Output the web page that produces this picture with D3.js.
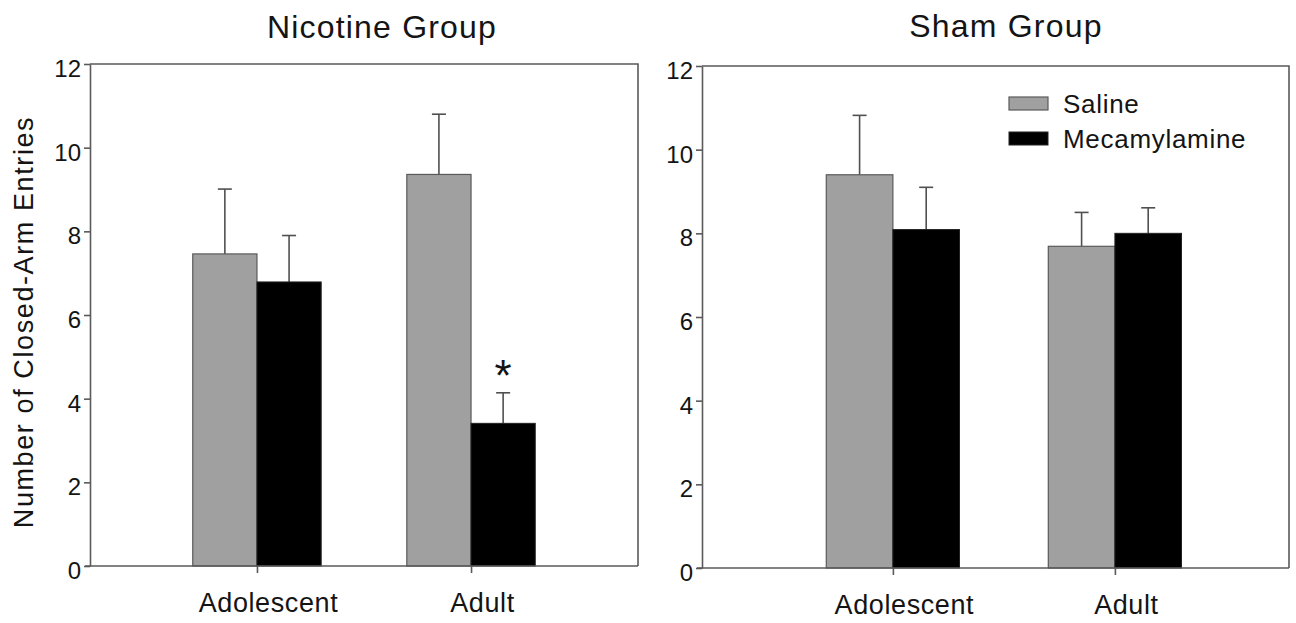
<!DOCTYPE html>
<meta charset="utf-8">
<style>
    body {
        margin: 0;
        background-color: #ffffff;
    }

    text {
        font-family: "Liberation Sans", Arial, Helvetica, sans-serif;
        fill: #141414;
    }

    .axis path, .axis line, .frame {
        stroke: #5a5a5a;
        stroke-width: 1.6;
        fill: none;
    }

    .bar.saline {
        fill: #a0a0a0;
        stroke: #5a5a5a;
        stroke-width: 1.2;
    }

    .bar.meca {
        fill: #000000;
        stroke: #222;
        stroke-width: 1;
    }

    .err {
        stroke: #505050;
        stroke-width: 1.6;
    }
</style>
<body>
<script src="https://cdnjs.cloudflare.com/ajax/libs/d3/7.8.5/d3.min.js"></script>
<script>

    // values (mean and SEM, closed-arm entries)
    var ages = ["Adolescent", "Adult"];
    var treatments = ["Saline", "Mecamylamine"];
    var yTicks = [0, 2, 4, 6, 8, 10, 12];

    var nicotineSaline = [7.46, 9.36];
    var nicotineSalineSem = [1.55, 1.44];
    var nicotineMeca = [6.79, 3.41];
    var nicotineMecaSem = [1.11, 0.73];

    var shamSaline = [9.40, 7.69];
    var shamSalineSem = [1.42, 0.81];
    var shamMeca = [8.09, 8.00];
    var shamMecaSem = [1.01, 0.61];

    var signif = [false, true]; // asterisk over mecamylamine bar, nicotine group

    var width = 1296, height = 623;

    var svg = d3.select("body").append("svg")
            .attr("width", width)
            .attr("height", height);

    var panels = [
        {title: "Nicotine Group", left: 90, top: 64, right: 638, bottom: 566,
            padding: 0.78, align: 0.5, titleX: 382, titleY: 38,
            saline: nicotineSaline, salineSem: nicotineSalineSem,
            meca: nicotineMeca, mecaSem: nicotineMecaSem, stars: signif, legend: false},
        {title: "Sham Group", left: 702, top: 66, right: 1289, bottom: 568,
            padding: 0.822, align: 0.523, titleX: 1006, titleY: 37,
            saline: shamSaline, salineSem: shamSalineSem,
            meca: shamMeca, mecaSem: shamMecaSem, stars: [false, false], legend: true}
    ];

    panels.forEach(drawPanel);

    // y-axis title
    svg.append("text")
            .attr("transform", "translate(33,322) rotate(-90)")
            .attr("text-anchor", "middle")
            .style("font-size", "27px")
            .style("letter-spacing", "1.6px")
            .text("Number of Closed-Arm Entries");

    function drawPanel(p) {
        var w = p.right - p.left,
            h = p.bottom - p.top;

        var g = svg.append("g")
                .attr("transform", "translate(" + p.left + "," + p.top + ")");

        var x = d3.scalePoint()
                .domain(ages)
                .range([0, w])
                .padding(p.padding)
                .align(p.align);

        var y = d3.scaleLinear()
                .domain([0, 12])
                .range([h, 0]);

        var bw = x.step() * 0.3;

        // frame: top and right
        g.append("path")
                .attr("class", "frame")
                .attr("d", "M0,0H" + w + "V" + h);

        var series = [
            {cls: "saline", vals: p.saline, sem: p.salineSem, off: -bw},
            {cls: "meca", vals: p.meca, sem: p.mecaSem, off: 0}
        ];

        series.forEach(function(s) {
            var d = ages.map(function(a, i) { return {age: a, v: s.vals[i], e: s.sem[i]}; });

            g.selectAll("line.err." + s.cls)
                .data(d)
                .enter().append("line")
                    .attr("class", "err " + s.cls)
                    .attr("x1", function(d) { return x(d.age) + s.off + bw / 2; })
                    .attr("x2", function(d) { return x(d.age) + s.off + bw / 2; })
                    .attr("y1", function(d) { return y(d.v); })
                    .attr("y2", function(d) { return y(d.v + d.e); });

            g.selectAll("line.cap." + s.cls)
                .data(d)
                .enter().append("line")
                    .attr("class", "err cap " + s.cls)
                    .attr("x1", function(d) { return x(d.age) + s.off + bw / 2 - 7; })
                    .attr("x2", function(d) { return x(d.age) + s.off + bw / 2 + 7; })
                    .attr("y1", function(d) { return y(d.v + d.e); })
                    .attr("y2", function(d) { return y(d.v + d.e); });

            g.selectAll("rect." + s.cls)
                .data(d)
                .enter().append("rect")
                    .attr("class", "bar " + s.cls)
                    .attr("x", function(d) { return x(d.age) + s.off; })
                    .attr("y", function(d) { return y(d.v); })
                    .attr("width", bw)
                    .attr("height", function(d) { return h - y(d.v); });
        });

        // significance marks
        ages.forEach(function(a, i) {
            if (!p.stars[i]) return;
            g.append("text")
                    .attr("x", x(a) + bw / 2)
                    .attr("y", y(p.meca[i] + p.mecaSem[i]) - 2)
                    .attr("text-anchor", "middle")
                    .style("font-size", "44px")
                    .text("*");
        });

        // axes
        var yAxis = d3.axisLeft(y)
                .tickValues(yTicks)
                .tickSize(6)
                .tickSizeOuter(0)
                .tickPadding(3);

        g.append("g")
                .attr("class", "y axis")
                .call(yAxis)
                .selectAll("text")
                    .attr("dy", "0.52em")
                    .style("font-size", "24px")
                    .style("font-family", "'Liberation Sans', Arial, sans-serif");

        var xAxis = d3.axisBottom(x)
                .tickSize(7)
                .tickSizeOuter(0)
                .tickPadding(20);

        var xg = g.append("g")
                .attr("class", "x axis")
                .attr("transform", "translate(0," + h + ")")
                .call(xAxis);

        xg.select(".domain").attr("d", "M-5,0H" + w);

        xg.selectAll("text")
                .attr("dx", 11)
                .style("font-size", "27px")
                .style("font-family", "'Liberation Sans', Arial, sans-serif")
                .style("letter-spacing", "0.6px");

        g.selectAll(".axis text").attr("fill", "#141414");

        // title
        svg.append("text")
                .attr("x", p.titleX)
                .attr("y", p.titleY)
                .attr("text-anchor", "middle")
                .style("font-size", "32px")
                .style("letter-spacing", "1.2px")
                .text(p.title);

        if (p.legend) {
            var lg = g.append("g")
                    .attr("transform", "translate(" + (w - 280) + ",31)");

            var item = lg.selectAll("g")
                .data(treatments)
                .enter().append("g")
                    .attr("transform", function(d, i) { return "translate(0," + (i * 35) + ")"; });

            item.append("rect")
                    .attr("class", function(d, i) { return "bar " + (i === 0 ? "saline" : "meca"); })
                    .attr("width", 39)
                    .attr("height", 13);

            item.append("text")
                    .attr("x", 54)
                    .attr("y", 16)
                    .style("font-size", "26px")
                    .style("letter-spacing", "0.7px")
                    .text(function(d) { return d; });
        }
    }

</script>
